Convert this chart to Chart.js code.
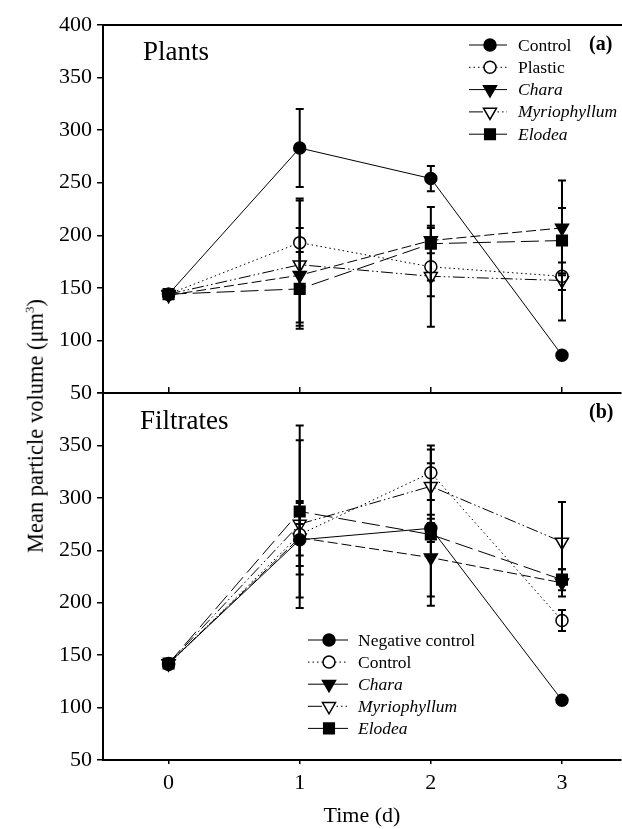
<!DOCTYPE html>
<html><head><meta charset="utf-8">
<script src="https://cdn.jsdelivr.net/npm/chart.js@4.4.1/dist/chart.umd.min.js"></script>
<style>
html,body{margin:0;padding:0;background:#fff;}
body{width:622px;height:829px;position:relative;overflow:hidden;font-family:"Liberation Serif","Times New Roman",serif;}
#ca{position:absolute;left:0;top:0;}
#cb{position:absolute;left:0;top:380px;}
#ytitle{position:absolute;left:36px;top:426px;transform:translate(-50%,-50%) rotate(-90deg);white-space:nowrap;font-size:22.5px;color:#000;line-height:1;}
#ytitle sup{font-size:13px;vertical-align:9px;line-height:0;}
</style>
</head><body>
<canvas id="ca" width="622" height="410" style="width:622px;height:410px"></canvas>
<canvas id="cb" width="622" height="449" style="width:622px;height:449px"></canvas>
<div id="ytitle">Mean particle volume (μm<sup>3</sup>)</div>
<script>
// ---------------- data ----------------
const timeDays = [0, 1, 2, 3];
const xTickValues = [0, 1, 2, 3];
const yTickValues = [50, 100, 150, 200, 250, 300, 350, 400];

// (a) Plants
const plantsLabels = ['Control', 'Plastic', 'Chara', 'Myriophyllum', 'Elodea'];
const plantsControl     = [144, 283, 254, 86];
const plantsControlErr  = [0, 37, 12, 0];
const plantsPlastic     = [144, 193, 170, 161];
const plantsPlasticErr  = [0, 42, 28, 13];
const plantsChara       = [143, 162, 195, 207];
const plantsCharaErr    = [0, 45, 12, 45];
const plantsMyrio       = [144, 172, 161, 157];
const plantsMyrioErr    = [0, 61, 48, 38];
const plantsElodea      = [144, 149, 192, 195];
const plantsElodeaErr   = [0, 35, 35, 31];

// (b) Filtrates
const filtLabels = ['Negative control', 'Control', 'Chara', 'Myriophyllum', 'Elodea'];
const filtNegControl    = [142, 260, 271, 107];
const filtNegControlErr = [0, 15, 13, 0];
const filtControl       = [141, 265, 324, 183];
const filtControlErr    = [0, 30, 26, 10];
const filtChara         = [142, 262, 243, 219];
const filtCharaErr      = [0, 35, 37, 13];
const filtMyrio         = [142, 275, 311, 258];
const filtMyrioErr      = [0, 80, 35, 38];
const filtElodea        = [142, 287, 265, 222];
const filtElodeaErr     = [0, 82, 68, 10];

// ---------------- styles ----------------
const FONT = '"Liberation Serif", "Times New Roman", serif';
const sSolidCircle = {dash: [], legDash: [], shape: 'circle', rot: 0, r: 6, fill: true, italic: false};
const sDotCircle   = {dash: [1.5, 3], legDash: [1.5, 3], shape: 'circle', rot: 0, r: 6, fill: false, italic: false};
const sChara       = {dash: [10, 4], legDash: [], shape: 'triangle', rot: 180, r: 7.5, fill: true, italic: true};
const sMyrio       = {dash: [12, 3, 1.5, 3, 1.5, 3], legDash: [14, 10, 1.5, 3, 1.5, 3, 1.5, 3, 1.5, 10], shape: 'triangle', rot: 180, r: 7.5, fill: false, italic: true};
const sElodea      = {dash: [18, 6], legDash: [], shape: 'rect', rot: 0, r: 7.5, fill: true, italic: true};

function ds(label, values, errs, st) {
  return {
    label: label,
    data: timeDays.map((t, i) => ({x: t, y: values[i]})),
    errors: errs,
    styleInfo: st,
    borderColor: '#000',
    borderWidth: 1,
    borderDash: st.dash,
    pointStyle: st.shape,
    pointRotation: st.rot,
    pointRadius: st.r,
    pointHoverRadius: st.r,
    pointBackgroundColor: st.fill ? '#000' : '#fff',
    pointBorderColor: '#000',
    pointBorderWidth: 1.5,
    fill: false,
    tension: 0
  };
}

function drawMarker(ctx, st, x, y) {
  ctx.save();
  ctx.setLineDash([]);
  ctx.lineWidth = 1.5;
  ctx.strokeStyle = '#000';
  ctx.fillStyle = st.fill ? '#000' : '#fff';
  ctx.beginPath();
  const r = st.r;
  if (st.shape === 'circle') {
    ctx.arc(x, y, r, 0, Math.PI * 2);
  } else if (st.shape === 'triangle') {
    const s = Math.sin(Math.PI / 3) * r;
    ctx.moveTo(x - s, y - r / 2);
    ctx.lineTo(x + s, y - r / 2);
    ctx.lineTo(x, y + r);
    ctx.closePath();
  } else {
    const h = r * Math.SQRT1_2;
    ctx.rect(x - h, y - h, 2 * h, 2 * h);
  }
  ctx.fill();
  ctx.stroke();
  ctx.restore();
}

// error bars + decorations
const errorBars = {
  id: 'errorBars',
  afterDatasetsDraw(chart) {
    const ctx = chart.ctx;
    const xs = chart.scales.x, ys = chart.scales.y;
    ctx.save();
    ctx.strokeStyle = '#000';
    ctx.lineWidth = 2;
    ctx.setLineDash([]);
    chart.data.datasets.forEach(d => {
      d.data.forEach((p, i) => {
        const e = d.errors[i];
        if (!e) return;
        const px = xs.getPixelForValue(p.x);
        const top = ys.getPixelForValue(p.y + e);
        const bot = ys.getPixelForValue(p.y - e);
        ctx.beginPath();
        ctx.moveTo(px, top); ctx.lineTo(px, bot);
        ctx.moveTo(px - 4, top); ctx.lineTo(px + 4, top);
        ctx.moveTo(px - 4, bot); ctx.lineTo(px + 4, bot);
        ctx.stroke();
      });
    });
    ctx.restore();
  }
};

const decor = {
  id: 'decor',
  afterDraw(chart, args, opts) {
    const ctx = chart.ctx;
    ctx.save();
    ctx.fillStyle = '#000';
    ctx.textBaseline = 'middle';
    ctx.textAlign = 'left';
    ctx.font = '27px ' + FONT;
    ctx.fillText(opts.title, opts.titleX, opts.titleY);
    ctx.font = 'bold 20px ' + FONT;
    ctx.fillText(opts.tag, opts.tagX, opts.tagY);
    const L = opts.legend;
    chart.data.datasets.forEach((d, i) => {
      const y = L.y0 + i * L.dy;
      const st = d.styleInfo;
      ctx.save();
      ctx.strokeStyle = '#000';
      ctx.lineWidth = 1;
      ctx.setLineDash(st.legDash);
      ctx.beginPath();
      ctx.moveTo(L.x0, y); ctx.lineTo(L.x1, y);
      ctx.stroke();
      ctx.restore();
      drawMarker(ctx, st, L.mx, y);
      ctx.font = (st.italic ? 'italic ' : '') + L.size + 'px ' + FONT;
      ctx.fillText(d.label, L.tx, y + 1);
    });
    ctx.restore();
  }
};

const setTicks = vals => (s => { s.ticks = vals.map(v => ({value: v})); });

function yScale(hideTop) {
  return {
    type: 'linear', min: 50, max: 400, position: 'left',
    afterBuildTicks: setTicks(yTickValues),
    afterFit: s => { s.width = 103; s.paddingTop = 0; s.paddingBottom = 0; },
    ticks: {
      stepSize: 50, color: '#000', padding: 5,
      font: {family: FONT, size: 22},
      callback: v => (hideTop && v === 400) ? '' : String(v)
    },
    grid: {drawOnChartArea: false, drawTicks: true, tickLength: 6, color: '#000', lineWidth: 1.5},
    border: {display: true, color: '#000', width: 2}
  };
}

Chart.defaults.font.family = FONT;

// ---------------- chart (a) ----------------
new Chart(document.getElementById('ca'), {
  type: 'line',
  data: {
    datasets: [
      ds(plantsLabels[0], plantsControl, plantsControlErr, sSolidCircle),
      ds(plantsLabels[1], plantsPlastic, plantsPlasticErr, sDotCircle),
      ds(plantsLabels[2], plantsChara, plantsCharaErr, sChara),
      ds(plantsLabels[3], plantsMyrio, plantsMyrioErr, sMyrio),
      ds(plantsLabels[4], plantsElodea, plantsElodeaErr, sElodea)
    ]
  },
  options: {
    responsive: false, animation: false, devicePixelRatio: 1,
    layout: {autoPadding: false, padding: {left: 0, top: 25, right: 1, bottom: 17}},
    plugins: {
      legend: {display: false}, tooltip: {enabled: false},
      decor: {
        title: 'Plants', titleX: 143, titleY: 53,
        tag: '(a)', tagX: 589, tagY: 45,
        legend: {x0: 469, x1: 507, mx: 490, tx: 518, y0: 45, dy: 22.3, size: 17.5}
      }
    },
    scales: {
      x: {type: 'linear', min: -0.5, max: 3.45, display: false, afterBuildTicks: setTicks(xTickValues)},
      xt: {type: 'linear', axis: 'x', position: 'top', min: -0.5, max: 3.45,
           afterBuildTicks: setTicks(xTickValues),
           afterFit: s => { s.height = 0; },
           ticks: {display: false}, grid: {display: false},
           border: {display: true, color: '#000', width: 2}},
      y: yScale(false)
    }
  },
  plugins: [errorBars, decor]
});

// ---------------- chart (b) ----------------
new Chart(document.getElementById('cb'), {
  type: 'line',
  data: {
    datasets: [
      ds(filtLabels[0], filtNegControl, filtNegControlErr, sSolidCircle),
      ds(filtLabels[1], filtControl, filtControlErr, sDotCircle),
      ds(filtLabels[2], filtChara, filtCharaErr, sChara),
      ds(filtLabels[3], filtMyrio, filtMyrioErr, sMyrio),
      ds(filtLabels[4], filtElodea, filtElodeaErr, sElodea)
    ]
  },
  options: {
    responsive: false, animation: false, devicePixelRatio: 1,
    layout: {autoPadding: false, padding: {left: 0, top: 0, right: 1, bottom: 0}},
    plugins: {
      legend: {display: false}, tooltip: {enabled: false},
      decor: {
        title: 'Filtrates', titleX: 140, titleY: 42,
        tag: '(b)', tagX: 589, tagY: 33,
        legend: {x0: 308, x1: 348, mx: 329, tx: 358, y0: 260, dy: 22.1, size: 17.5}
      }
    },
    scales: {
      x: {
        type: 'linear', min: -0.5, max: 3.45, position: 'bottom',
        afterBuildTicks: setTicks(xTickValues),
        afterFit: s => { s.height = 69; },
        ticks: {color: '#000', padding: 6, font: {family: FONT, size: 22}},
        grid: {drawOnChartArea: false, drawTicks: true, tickLength: 4, color: '#000', lineWidth: 1.5},
        border: {display: true, color: '#000', width: 2},
        title: {display: true, text: 'Time (d)', color: '#000', font: {family: FONT, size: 22}, padding: {top: 0, bottom: 0}}
      },
      xt: {
        type: 'linear', axis: 'x', position: 'top', min: -0.5, max: 3.45,
        afterBuildTicks: setTicks(xTickValues),
        afterFit: s => { s.height = 13; },
        ticks: {display: false},
        grid: {drawOnChartArea: false, drawTicks: true, tickLength: 6, color: '#000', lineWidth: 1.5},
        border: {display: true, color: '#000', width: 2}
      },
      y: yScale(true)
    }
  },
  plugins: [errorBars, decor]
});
</script>
</body></html>
